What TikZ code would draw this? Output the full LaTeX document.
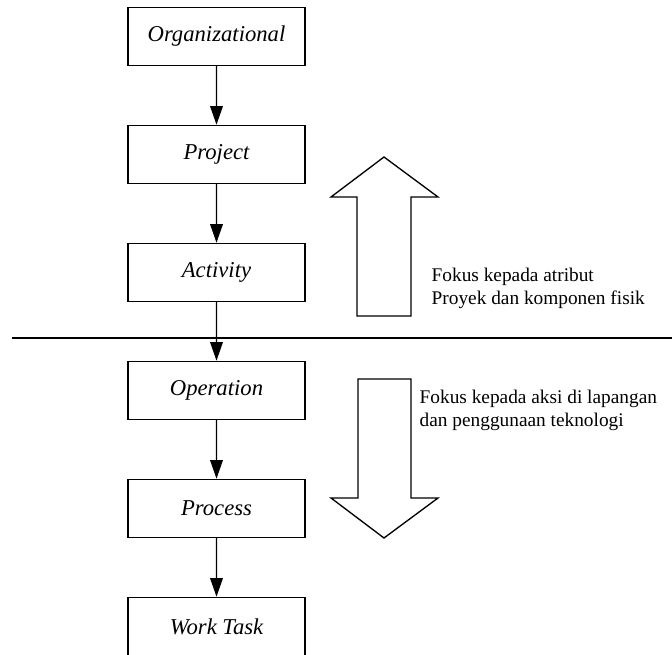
\documentclass[tikz,border=0pt]{standalone}
\usepackage{fontspec}
\setmainfont{Liberation Serif}
\usetikzlibrary{arrows.meta}
\tikzset{
    level box/.style = {draw, line width=1.1pt, minimum width=132.75pt, minimum height=43.5pt, font=\fontsize{17}{20}\selectfont\itshape},
    focus text/.style = {anchor=north west, inner sep=0pt, align=left, font=\fontsize{14.5}{17.25}\selectfont}
}
\begin{document}
\begin{tikzpicture}[x=0.75pt, y=0.75pt, line width=1pt]
        \useasboundingbox (0,0) rectangle (672,-655);
        \node[level box] (organizational) at (216.5,-36.5) {Organizational} [level distance = 88.5pt, edge from parent/.style={draw, -{Triangle[length=14pt,width=9.5pt]}}]
            child{
                node[level box] (project) {Project}
                child{
                    node[level box] (activity) {Activity}
                    child{
                        node[level box] (operation) {Operation}
                        child{
                            node[level box] (process) {Process}
                            child{node[level box] (worktask) {Work Task}}
                        }
                    }
                }
            };
        % garis pemisah
        \draw (12,-338) -- (672,-338);
        % panah besar
        \draw (357,-316) -- (357,-197) -- (331,-197) -- (384,-157) -- (438,-197) -- (411,-197) -- (411,-316) -- cycle;
        \draw (358,-379) -- (358,-498) -- (331,-498) -- (384,-538) -- (438,-498) -- (411,-498) -- (411,-379) -- cycle;
        \node[focus text] (upper focus) at (431,-267) {Fokus kepada atribut\\Proyek dan komponen fisik};
        \node[focus text] (lower focus) at (419,-389) {Fokus kepada aksi di lapangan\\dan penggunaan teknologi};
        \end{tikzpicture}
\end{document}
